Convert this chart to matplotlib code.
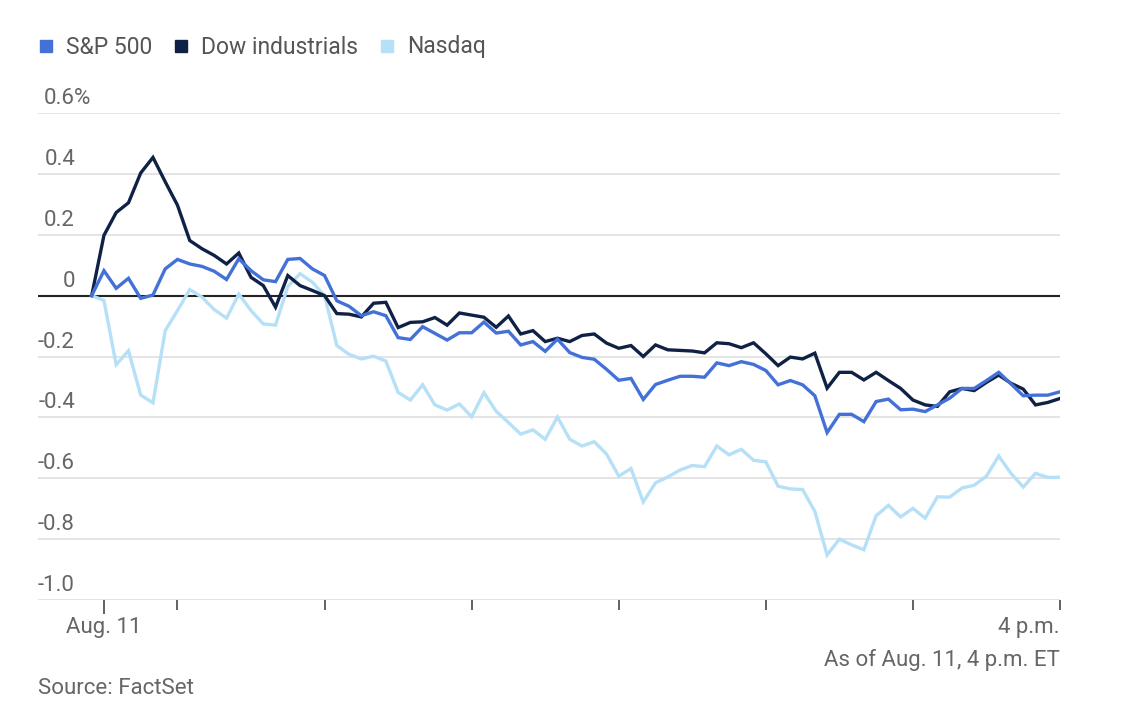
import numpy as np
import pandas as pd
import matplotlib
matplotlib.use("Agg")
import matplotlib.pyplot as plt
from matplotlib.transforms import blended_transform_factory

plt.rcParams['font.family'] = ['Roboto', 'DejaVu Sans']

# 5-minute marks from previous close (9:25) to 4 p.m.
times = pd.date_range('2025-08-11 09:25', '2025-08-11 16:00', freq='5min')
minutes = (times - pd.Timestamp('2025-08-11 09:30')).total_seconds() / 60

# percent change
sp500 = [0.0, 0.082, 0.024, 0.057, -0.009, 0.002, 0.088, 0.119, 0.104, 0.096,
         0.080, 0.053, 0.121, 0.082, 0.052, 0.046, 0.119, 0.122, 0.088, 0.066,
         -0.017, -0.035, -0.066, -0.053, -0.066, -0.138, -0.144, -0.102, -0.124, -0.146,
         -0.122, -0.122, -0.087, -0.123, -0.117, -0.162, -0.151, -0.183, -0.143, -0.187,
         -0.203, -0.209, -0.242, -0.278, -0.272, -0.341, -0.292, -0.278, -0.265, -0.265,
         -0.268, -0.221, -0.230, -0.217, -0.226, -0.246, -0.293, -0.279, -0.293, -0.329,
         -0.450, -0.390, -0.390, -0.414, -0.348, -0.340, -0.375, -0.373, -0.381, -0.359,
         -0.337, -0.305, -0.305, -0.279, -0.252, -0.290, -0.329, -0.327, -0.327, -0.316]
dow = [0.0, 0.198, 0.273, 0.305, 0.403, 0.454, 0.374, 0.297, 0.181, 0.154,
       0.132, 0.104, 0.140, 0.060, 0.033, -0.038, 0.066, 0.033, 0.017, 0.0,
       -0.059, -0.061, -0.070, -0.025, -0.022, -0.105, -0.088, -0.086, -0.072, -0.097,
       -0.057, -0.064, -0.071, -0.104, -0.067, -0.126, -0.115, -0.151, -0.140, -0.151,
       -0.131, -0.126, -0.156, -0.173, -0.164, -0.200, -0.162, -0.178, -0.180, -0.182,
       -0.188, -0.155, -0.158, -0.171, -0.155, -0.191, -0.230, -0.202, -0.208, -0.189,
       -0.304, -0.252, -0.252, -0.277, -0.252, -0.279, -0.305, -0.343, -0.359, -0.364,
       -0.316, -0.305, -0.312, -0.285, -0.261, -0.288, -0.307, -0.359, -0.351, -0.338]
nasdaq = [0.0, -0.016, -0.227, -0.181, -0.327, -0.352, -0.115, -0.049, 0.020, -0.005,
          -0.046, -0.074, 0.005, -0.049, -0.093, -0.097, 0.030, 0.072, 0.044, 0.0,
          -0.164, -0.193, -0.208, -0.199, -0.215, -0.318, -0.343, -0.293, -0.359, -0.376,
          -0.356, -0.398, -0.319, -0.380, -0.417, -0.455, -0.441, -0.472, -0.399, -0.472,
          -0.494, -0.480, -0.520, -0.593, -0.568, -0.678, -0.615, -0.596, -0.573, -0.558,
          -0.562, -0.494, -0.523, -0.505, -0.541, -0.546, -0.626, -0.635, -0.637, -0.709,
          -0.852, -0.800, -0.819, -0.835, -0.723, -0.689, -0.727, -0.699, -0.731, -0.661,
          -0.662, -0.632, -0.623, -0.593, -0.527, -0.584, -0.629, -0.584, -0.597, -0.597]

series_names = ['S&P 500', 'Dow industrials', 'Nasdaq']
series_colors = ['#4371d8', '#0f2246', '#b5e0f7']
y_ticks = [0.6, 0.4, 0.2, 0, -0.2, -0.4, -0.6, -0.8, -1.0]
y_labels = ['0.6%', '0.4', '0.2', '0', '-0.2', '-0.4', '-0.6', '-0.8', '-1.0']
hour_ticks = [30, 90, 150, 210, 270, 330, 390]

W, H = 1134, 715
fig = plt.figure(figsize=(W / 100, H / 100), dpi=100)
left, right, top, bottom = 38, 1060, 113, 600
ax = fig.add_axes([left / W, 1 - bottom / H, (right - left) / W, (bottom - top) / H])

grey = '#666666'
fs = 16
ax.set_ylim(-1.0, 0.6)
ax.set_xlim(-26.9, 390)
for yv in y_ticks:
    if yv != 0:
        ax.axhline(yv, color='#e2e2e2', lw=1.3, zorder=0)

for vals, col in zip([nasdaq, dow, sp500], [series_colors[2], series_colors[1], series_colors[0]]):
    ax.plot(minutes, vals, color=col, lw=2.4, solid_joinstyle='miter', zorder=3)
ax.axhline(0, color='#222222', lw=1.5, zorder=2)

# y labels sit above their grid lines
ytrans = blended_transform_factory(fig.transFigure, ax.transData)
for yv, lab in zip(y_ticks, y_labels):
    if lab.endswith('%'):
        ax.text(44 / W, yv + 0.013, lab, transform=ytrans, ha='left', va='bottom',
                fontsize=fs, color=grey)
    else:
        ax.text(75 / W, yv + 0.013, lab, transform=ytrans, ha='right', va='bottom',
                fontsize=fs, color=grey)

ax.set_yticks([])
ax.set_xticks([0])
ax.set_xticklabels([''])
ax.set_xticks(hour_ticks, minor=True)
ax.tick_params(axis='x', which='major', length=10, width=1.3, color='#555555')
ax.tick_params(axis='x', which='minor', length=7, width=1.3, color='#555555')
for s in ax.spines.values():
    s.set_visible(False)

ax.text(0, -1.055, 'Aug. 11', ha='center', va='top', fontsize=fs, color=grey)
ax.text(390, -1.055, '4 p.m.', ha='right', va='top', fontsize=fs, color=grey)
fig.text(right / W, 1 - 660 / H, 'As of Aug. 11, 4 p.m. ET', ha='right', va='center',
         fontsize=fs, color=grey)
fig.text(left / W, 1 - 689 / H, 'Source: FactSet', ha='left', va='center',
         fontsize=fs, color=grey)

# legend row
legend_x = [40, 175, 381]
for lx, name, col in zip(legend_x, series_names, series_colors):
    fig.patches.append(plt.Rectangle((lx / W, 1 - 52 / H), 12 / W, 12 / H,
                                     transform=fig.transFigure, color=col))
    fig.text((lx + 26) / W, 1 - 47 / H, name, ha='left', va='center',
             fontsize=16.5, color='#555555')

fig.savefig('out.png', dpi=100)
